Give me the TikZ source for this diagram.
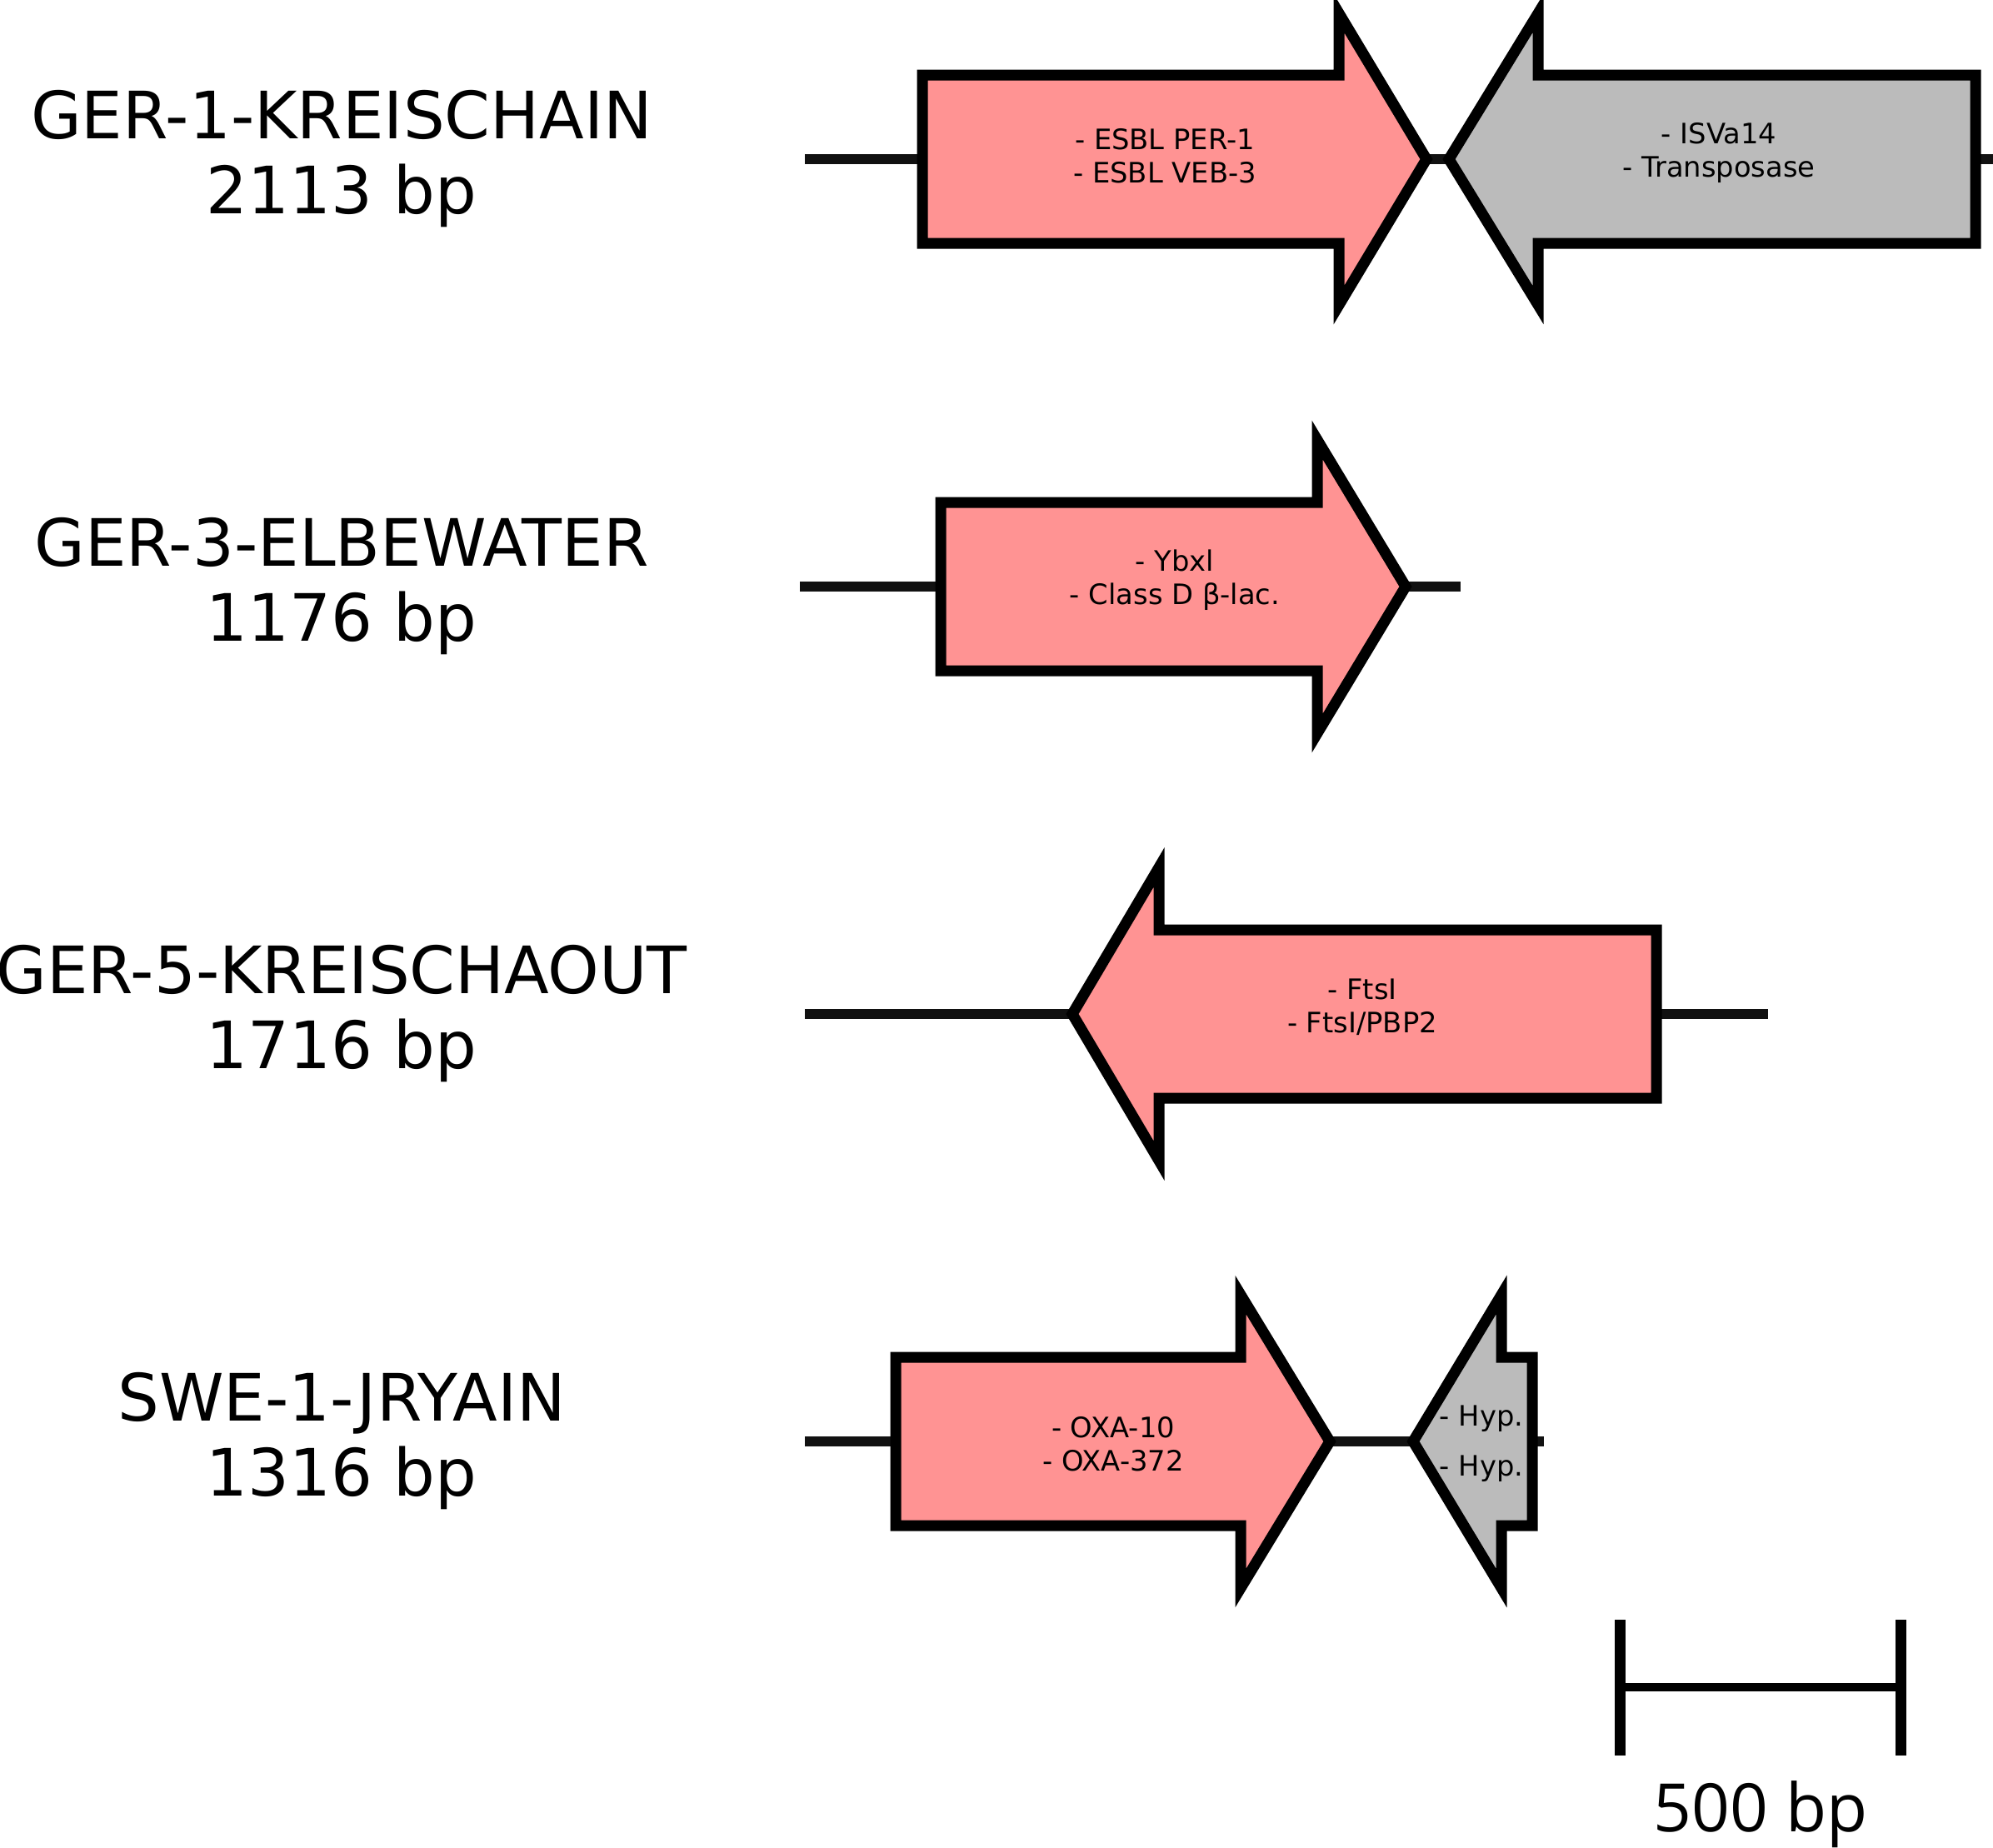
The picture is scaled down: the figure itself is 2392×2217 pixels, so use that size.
\documentclass[tikz,border=0pt]{standalone}
\usepackage{fontspec}
\setmainfont{DejaVu Sans}
\newfontfamily\barfont{Open Sans}
\usepackage{xcolor}
\usepackage{tikz}
\usetikzlibrary{positioning}
\definecolor{genepink}{HTML}{FF9393}
\definecolor{genegrey}{HTML}{BBBBBB}
\definecolor{dnaline}{HTML}{111111}
\tikzset{
  backbone/.style={line width=0.12cm, dnaline},
  gene/.style={draw=black, line width=0.13cm},
  resgene/.style={gene, fill=genepink},
  othergene/.style={gene, fill=genegrey},
  genetext/.style={font=\fontsize{9.6}{11.38}\selectfont, align=center},
  isolate/.style={font=\fontsize{22.3}{26}\selectfont, anchor=base},
  scalebar/.style={line width=0.13cm, black}
}

\begin{document}
\begin{tikzpicture}[x=0.01cm, y=-0.01cm]
\useasboundingbox (0,0) rectangle (2392,2217);

% GER-1-KREISCHAIN
\node[isolate] (name1) at (410,166) {GER-1-KREISCHAIN};
\node[isolate] (len1) at (410,256) {2113 bp};
\draw[backbone] (966,191) -- (2392,191);
\draw[resgene] (1107,90) -- (1607,90) -- (1607,16) -- (1712,191) -- (1607,366) -- (1607,292) -- (1107,292) -- cycle;
\draw[othergene] (2371,90) -- (1846,90) -- (1846,16) -- (1739,191) -- (1846,366) -- (1846,292) -- (2371,292) -- cycle;
\node[genetext] (per) at (1398,187) {- ESBL PER-1\\- ESBL VEB-3};
\node[genetext] (isva) at (2063,183) {- ISVa14\\- Transposase};

% GER-3-ELBEWATER
\node[isolate] (name2) at (410,679) {GER-3-ELBEWATER};
\node[isolate] (len2) at (410,769) {1176 bp};
\draw[backbone] (960,704) -- (1753,704);
\draw[resgene] (1129,603) -- (1581,603) -- (1581,528) -- (1687,704) -- (1581,880) -- (1581,805) -- (1129,805) -- cycle;
\node[genetext] (ybxl) at (1410,696) {- Ybxl\\- Class D β-lac.};

% GER-5-KREISCHAOUT
\node[isolate] (name3) at (410,1192) {GER-5-KREISCHAOUT};
\node[isolate] (len3) at (410,1282) {1716 bp};
\draw[backbone] (966,1217) -- (2122,1217);
\draw[resgene] (1988,1116) -- (1391,1116) -- (1391,1041) -- (1287,1217) -- (1391,1393) -- (1391,1318) -- (1988,1318) -- cycle;
\node[genetext] (ftsi) at (1635,1209) {- FtsI\\- FtsI/PBP2};

% SWE-1-JRYAIN
\node[isolate] (name4) at (410,1705) {SWE-1-JRYAIN};
\node[isolate] (len4) at (410,1795) {1316 bp};
\draw[backbone] (966,1730) -- (1853,1730);
\draw[resgene] (1075,1629) -- (1489,1629) -- (1489,1554) -- (1596,1730) -- (1489,1906) -- (1489,1831) -- (1075,1831) -- cycle;
\draw[othergene] (1839,1629) -- (1802,1629) -- (1802,1554) -- (1696,1730) -- (1802,1906) -- (1802,1831) -- (1839,1831) -- cycle;
\node[genetext] (oxa) at (1336,1733) {- OXA-10\\- OXA-372};
\node[genetext] (hyp) at (1778,1733) {- Hyp.\\[5.7pt]- Hyp.};

% Scale bar
\draw[scalebar] (1944,1944) -- (1944,2107);
\draw[scalebar] (2281,1944) -- (2281,2107);
\draw[scalebar, line width=0.10cm] (1944,2025) -- (2281,2025);
\node[anchor=base, font=\barfont\fontsize{22.8}{27}\selectfont] (bar) at (2113,2198) {500 bp};
\end{tikzpicture}
\end{document}
